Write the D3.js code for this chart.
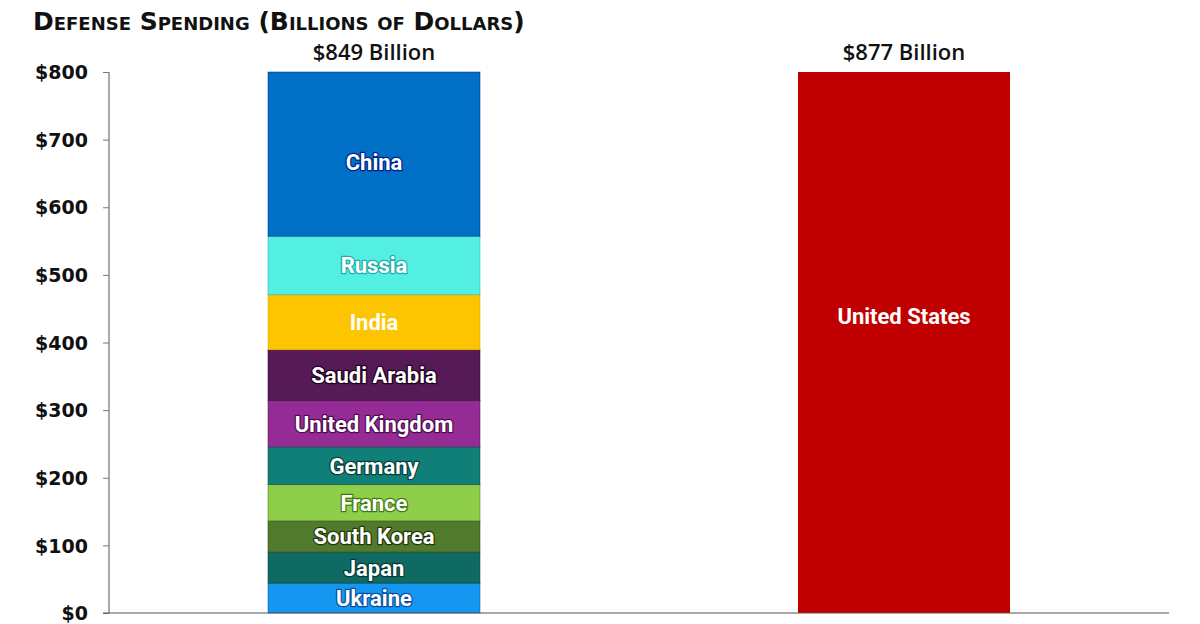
<!DOCTYPE html>
<html>
<head>
    <meta charset="utf-8">
    <title>Defense Spending</title>
    <script src="https://d3js.org/d3.v7.min.js"></script>
    <style>
        body { margin: 0; background: white; }
        svg { display: block; }
        .tick-label { font-family: "DejaVu Sans", sans-serif; font-weight: 700; font-size: 19px; fill: #111; }
        .seg-label { font-family: Roboto, "Noto Sans", sans-serif; font-weight: 700; font-size: 22px; fill: white; paint-order: stroke; stroke-width: 2.5px; stroke-linejoin: round; }
    </style>
</head>
<body>
    <svg id="chart"></svg>
    <script>
        const width = 1200, height = 624;

        // stacked bar, bottom to top
        const countries = ["Ukraine", "Japan", "South Korea", "France", "Germany",
                           "United Kingdom", "Saudi Arabia", "India", "Russia", "China"];
        const spending = [44, 46, 46.4, 53.6, 55.8, 68.5, 75, 81.4, 86.4, 292];
        const colors = ["#1596f0", "#0f6a63", "#527a2c", "#8fce48", "#0f7f78",
                        "#952c96", "#561a56", "#fdc500", "#52efe2", "#0070c6"];
        const outlines = ["#0a4fa0", "#053a35", "#1f3a08", "#3f7a10", "#053f3a",
                          "#4f0a50", "#1f001f", "#e0a000", "#1fb0a8", "#00208f"];

        const barNames = ["Rest of top 10", "United States"];
        const barTotals = [849, 877];
        const usValue = 877;
        const yTicks = [0, 100, 200, 300, 400, 500, 600, 700, 800];

        const svg = d3.select("#chart").attr("width", width).attr("height", height);

        const x = d3.scaleBand().domain(barNames).range([109, 1169]).paddingInner(0.6).paddingOuter(0.3);
        const y = d3.scaleLinear().domain([0, 800]).range([613, 72]).clamp(true);

        // title
        svg.append("text")
            .attr("x", 33)
            .attr("y", 30)
            .attr("font-family", "'DejaVu Sans', sans-serif")
            .attr("font-weight", 700)
            .attr("font-size", "25px")
            .attr("font-variant", "small-caps")
            .attr("fill", "#111")
            .text("Defense Spending (Billions of Dollars)");

        // stacked segments
        let cum = 0;
        const segs = spending.map((v, i) => {
            const s = { name: countries[i], y0: cum, y1: cum + v, color: colors[i], outline: outlines[i] };
            cum += v;
            return s;
        });

        const left = barNames[0];
        svg.selectAll("rect.seg").data(segs).enter()
            .append("rect")
            .attr("class", "seg")
            .attr("x", x(left))
            .attr("width", x.bandwidth())
            .attr("y", d => y(d.y1))
            .attr("height", d => y(d.y0) - y(d.y1))
            .attr("fill", d => d.color)
            .attr("stroke", d => d.outline)
            .attr("stroke-opacity", 0.5)
            .attr("stroke-width", 1);

        svg.selectAll("text.seg-label").data(segs).enter()
            .append("text")
            .attr("class", "seg-label")
            .attr("x", x(left) + x.bandwidth() / 2)
            .attr("y", d => (y(d.y0) + y(d.y1)) / 2 + (d.name === "China" ? 8 : 0))
            .attr("dy", "0.36em")
            .attr("text-anchor", "middle")
            .attr("stroke", d => d.name === "India" ? "none" : d.outline)
            .text(d => d.name);

        // US bar
        svg.append("rect")
            .attr("x", x("United States"))
            .attr("width", x.bandwidth())
            .attr("y", y(usValue))
            .attr("height", y(0) - y(usValue))
            .attr("fill", "#c00000");

        const yFull = d3.scaleLinear().domain([0, 800]).range([613, 72]);
        svg.append("text")
            .attr("class", "seg-label")
            .attr("x", x("United States") + x.bandwidth() / 2)
            .attr("y", (yFull(0) + yFull(usValue)) / 2)
            .attr("dy", "0.36em")
            .attr("text-anchor", "middle")
            .attr("stroke", "none")
            .text("United States");

        // totals above bars
        svg.selectAll("text.total").data(barNames).enter()
            .append("text")
            .attr("class", "total")
            .attr("x", d => x(d) + x.bandwidth() / 2)
            .attr("y", 60)
            .attr("text-anchor", "middle")
            .attr("font-family", "'Open Sans', sans-serif")
            .attr("font-weight", 600)
            .attr("font-size", "22px")
            .attr("fill", "#111")
            .text((d, i) => "$" + barTotals[i] + " Billion");

        // y axis
        const yAxis = svg.append("g")
            .attr("transform", "translate(109,0)")
            .call(d3.axisLeft(y).tickValues(yTicks).tickSize(6).tickPadding(15).tickFormat(d => "$" + d));
        yAxis.select(".domain").attr("stroke", "#555").attr("d", "M0,72V613");
        yAxis.selectAll(".tick line").attr("stroke", "#777");
        yAxis.selectAll(".tick text").attr("class", "tick-label").attr("dy", "0.35em");

        // baseline
        svg.append("line")
            .attr("x1", 103).attr("x2", 1169)
            .attr("y1", y(0)).attr("y2", y(0))
            .attr("stroke", "#555")
            .attr("stroke-width", 1.2);
    </script>
</body>
</html>
